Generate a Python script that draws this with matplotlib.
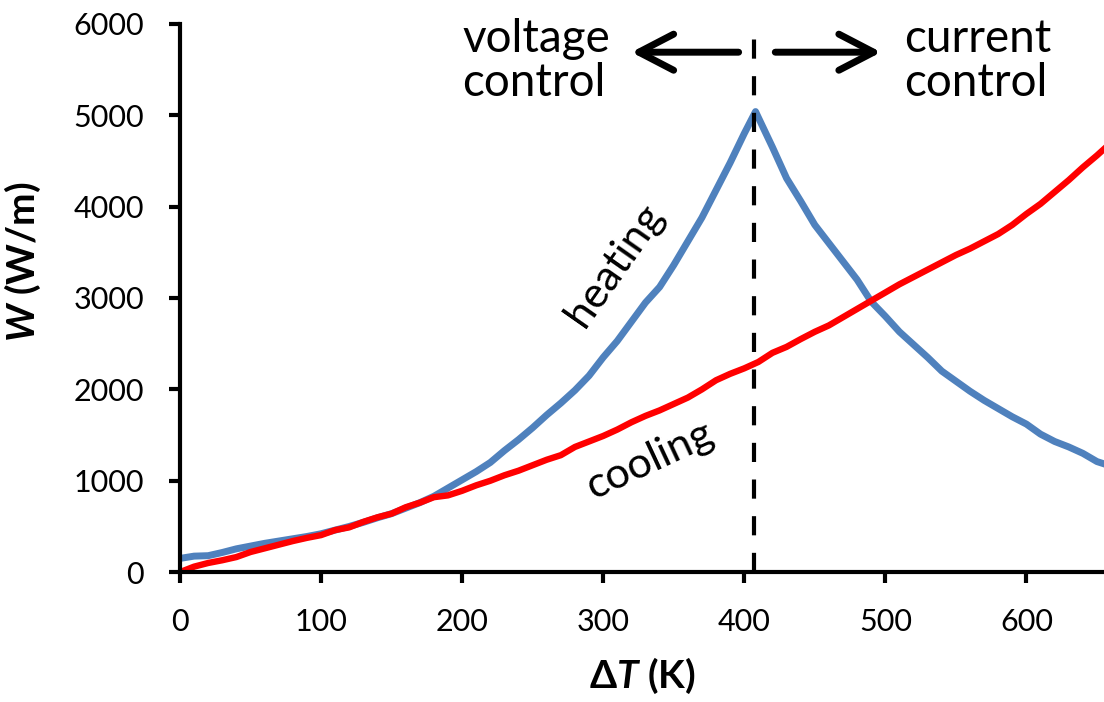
import matplotlib.pyplot as plt

plt.rcParams['font.family'] = ['Lato', 'DejaVu Sans']
plt.rcParams['mathtext.fontset'] = 'custom'
plt.rcParams['mathtext.rm'] = 'Lato'
plt.rcParams['mathtext.it'] = 'Lato:italic'
plt.rcParams['mathtext.bf'] = 'Lato:bold'
plt.rcParams['mathtext.bfit'] = 'Lato:bold:italic'

# heating curve (W/m vs delta T)
heat_T = [0, 10, 20, 30, 40, 50, 60, 70, 80, 90, 100, 110, 120, 130, 140, 150,
          160, 170, 180, 190, 200, 210, 220, 230, 240, 250, 260, 270, 280, 290,
          300, 310, 320, 330, 340, 350, 360, 370, 380, 390, 400, 408, 420, 430,
          440, 450, 460, 470, 480, 490, 500, 510, 520, 530, 540, 550, 560, 570,
          580, 590, 600, 610, 620, 630, 640, 650, 660]
heat_W = [150, 175, 180, 215, 255, 285, 315, 340, 365, 390, 420, 460, 500, 545,
          595, 640, 700, 760, 830, 920, 1010, 1100, 1200, 1330, 1450, 1580, 1720,
          1850, 1990, 2150, 2350, 2530, 2740, 2950, 3120, 3360, 3620, 3880, 4180,
          4480, 4800, 5040, 4650, 4310, 4060, 3800, 3600, 3400, 3200, 2960, 2800,
          2630, 2490, 2350, 2200, 2090, 1980, 1880, 1790, 1700, 1620, 1510, 1430,
          1370, 1300, 1210, 1160]

# cooling curve
cool_T = list(range(0, 670, 10))
cool_W = [0, 60, 100, 130, 165, 220, 260, 300, 340, 375, 405, 460, 490, 550, 600,
          640, 710, 760, 820, 840, 890, 950, 1000, 1060, 1110, 1170, 1230, 1280,
          1370, 1430, 1490, 1560, 1640, 1710, 1770, 1840, 1910, 2000, 2100, 2170,
          2230, 2300, 2400, 2465, 2550, 2630, 2700, 2790, 2880, 2970, 3060, 3150,
          3230, 3310, 3390, 3470, 3540, 3620, 3700, 3800, 3920, 4030, 4160, 4290,
          4430, 4560, 4700]

T_switch = 407

fig = plt.figure(figsize=(11.04, 7.02), dpi=100)
ax = fig.add_axes([0.163, 0.185, 0.837, 0.781])

ax.plot(heat_T, heat_W, color='#4F81BD', lw=5, solid_joinstyle='round')
ax.plot(cool_T, cool_W, color='#FF0000', lw=4.6, solid_joinstyle='round')
ax.axvline(T_switch, ymin=0, ymax=0.976, color='black', lw=3, dashes=(4.6, 4.2))

ax.set_xlim(0, 655)
ax.set_ylim(0, 6000)
ax.set_xticks(range(0, 700, 100))
ax.set_yticks(range(0, 7000, 1000))
ax.spines['top'].set_visible(False)
ax.spines['right'].set_visible(False)
for s in ['left', 'bottom']:
    ax.spines[s].set_linewidth(3)
ax.tick_params(direction='out', length=8, width=3, labelsize=22)
ax.tick_params(axis='y', pad=18)
ax.tick_params(axis='x', pad=18)

ax.set_xlabel(r'$\mathbf{\Delta}\mathbfit{T}$ (K)', fontsize=28, fontweight='bold', labelpad=14)
ax.set_ylabel(r'$\mathbfit{W}$ (W/m)', fontsize=28, fontweight='bold')
ax.yaxis.set_label_coords(-0.148, 0.567)

# arrows and labels
arrow = dict(arrowstyle='->, head_length=2.5, head_width=1.3', lw=5, color='black',
             mutation_scale=10, shrinkA=0, shrinkB=0, capstyle='round', joinstyle='round')
ax.annotate('', xy=(320, 5690), xytext=(396, 5690), arrowprops=arrow)
ax.annotate('', xy=(497, 5690), xytext=(422, 5690), arrowprops=arrow)
ax.text(200, 5590, 'voltage\ncontrol', fontsize=33, ha='left', va='center', linespacing=1.05)
ax.text(513, 5590, 'current\ncontrol', fontsize=33, ha='left', va='center', linespacing=1.05)

ax.text(308, 3360, 'heating', fontsize=31, rotation=55, ha='center', va='center')
ax.text(333, 1230, 'cooling', fontsize=31, rotation=25, ha='center', va='center')

fig.savefig('out.png', dpi=100)
